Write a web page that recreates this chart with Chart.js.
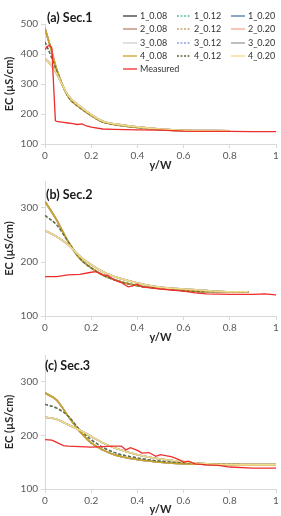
<!DOCTYPE html>
<html><head><meta charset="utf-8">
<script src="https://cdn.jsdelivr.net/npm/chart.js@4/dist/chart.umd.min.js"></script>
<style>
html,body{margin:0;padding:0;background:#fff;}
#wrap{position:relative;width:281px;height:516px;overflow:hidden;font-family:Lato,'Open Sans',sans-serif;}
canvas{position:absolute;left:0;}
.ptitle{position:absolute;font-weight:bold;font-size:12.5px;color:#1a1a1a;line-height:1;white-space:nowrap;}
.lg{position:absolute;font-size:9px;color:#333;line-height:10px;white-space:nowrap;display:flex;align-items:center;}
.lg svg{display:block;margin-right:3px;}
</style></head>
<body><div id="wrap">
<canvas id="c1" width="281" height="172" style="top:0px"></canvas>
<canvas id="c2" width="281" height="172" style="top:172px"></canvas>
<canvas id="c3" width="281" height="172" style="top:344px"></canvas>
<div class="ptitle" style="left:47px;top:12px">(a) Sec.1</div>
<div class="ptitle" style="left:46px;top:189px">(b) Sec.2</div>
<div class="ptitle" style="left:45px;top:360px">(c) Sec.3</div>
<div id="legend"></div>
</div>
<script>
// ---------- data ----------
const seriesNames = ['1_0.08','1_0.12','1_0.20','2_0.08','2_0.12','2_0.20','3_0.08','3_0.12','3_0.20','4_0.08','4_0.12','4_0.20'];
const seriesGroup = ['008','012','020','008','012','020','008','012','020','008','012','020'];
const measuredName = 'Measured';
const xTicks = [0, 0.2, 0.4, 0.6, 0.8, 1];
const xTickLabels = ['0', '0.2', '0.4', '0.6', '0.8', '1'];
const yTicks = [100, 200, 300, 400, 500];

// Sec.1
const xModel1 = [0, 0.025, 0.05, 0.1, 0.15, 0.2, 0.25, 0.3, 0.4, 0.5, 0.6, 0.7, 0.8];
const sec1_008 = [485, 420, 350, 258, 222, 195, 173, 165, 155, 148, 145, 144, 143];
const sec1_012 = [440, 395, 345, 258, 222, 195, 173, 165, 155, 148, 145, 144, 143];
const sec1_020 = [385, 365, 335, 262, 226, 198, 176, 167, 157, 150, 146, 145, 144];
const xMeas1 = [0, 0.01, 0.02, 0.03, 0.035, 0.045, 0.05, 0.08, 0.1, 0.12, 0.14, 0.16, 0.18, 0.2, 0.25, 0.3, 0.4, 0.5, 0.6, 0.7, 0.8, 0.9, 1];
const meas1 = [415, 425, 430, 420, 330, 178, 175, 172, 170, 168, 165, 167, 160, 156, 150, 149, 147, 146, 143, 142, 142, 141, 141];

// Sec.2
const xModel2 = [0, 0.05, 0.1, 0.15, 0.2, 0.25, 0.3, 0.4, 0.5, 0.6, 0.7, 0.8, 0.88];
const sec2_008 = [312, 278, 238, 207, 189, 176, 167, 156, 151, 147, 145, 145, 144.5];
const sec2_012 = [286, 269, 238, 207, 189, 176, 167, 156, 151, 147, 145, 145, 144.5];
const sec2_020 = [258, 247, 232, 211, 195, 182, 173, 161, 153, 150, 147, 145, 145];
const xMeas2 = [0, 0.05, 0.1, 0.15, 0.2, 0.22, 0.25, 0.27, 0.3, 0.33, 0.36, 0.38, 0.4, 0.42, 0.5, 0.6, 0.65, 0.7, 0.8, 0.9, 0.95, 1];
const meas2 = [173, 173, 176, 177, 181, 182, 176, 175, 167, 162, 154, 156, 159, 154, 150, 146, 143, 141, 140, 140, 141, 139];

// Sec.3
const xModel3 = [0, 0.05, 0.1, 0.15, 0.2, 0.25, 0.3, 0.4, 0.5, 0.6, 0.7, 0.8, 0.9, 1.0];
const sec3_008 = [279, 266, 236, 208, 186, 173, 164, 155, 150, 147, 146, 145.5, 145.5, 145.5];
const sec3_012 = [258, 251, 236, 211, 192, 178, 168, 158, 152, 149, 147, 146, 145.5, 145.5];
const sec3_020 = [234, 230, 220, 210, 198, 186, 177, 164, 156, 151, 147, 145.5, 145, 145];
const xMeas3 = [0, 0.03, 0.05, 0.08, 0.1, 0.2, 0.3, 0.33, 0.35, 0.37, 0.4, 0.42, 0.45, 0.48, 0.5, 0.55, 0.58, 0.6, 0.62, 0.65, 0.7, 0.75, 0.8, 0.9, 1];
const meas3 = [192, 191, 187, 181, 180, 178, 180, 180, 173, 177, 172, 167, 168, 161, 164, 160, 155, 150, 152, 147, 145, 144, 141, 139, 139];

// ---------- styles ----------
const seriesColors = ['#3a3a3a','#4dc89a','#4a78b0','#b8866a','#c8a070','#f2a88f','#d0d0d0','#8f9fe0','#9a9a9a','#c9a227','#5d6b35','#f0dc8a'];
const measuredColor = '#ee2d2d';
const FONT = 'Lato, "Open Sans", sans-serif';

function pts(xs, ys){ return xs.map((x,i)=>({x:x, y:ys[i]})); }

function buildDatasets(xModel, groups, xMeas, meas){
  const ds = seriesNames.map((name,i)=>{
    const dashed = seriesGroup[i]==='012';
    return {
      label:name,
      data:pts(xModel, groups[seriesGroup[i]]),
      borderColor:seriesColors[i],
      borderWidth: dashed ? 1.2 : 1.6,
      borderDash: dashed ? [3,2] : [],
      cubicInterpolationMode:'monotone',
      pointRadius:0,
      order: 13 - i
    };
  });
  ds.push({label:measuredName, data:pts(xMeas, meas), borderColor:measuredColor, borderWidth:1.3, tension:0, pointRadius:0, order:0});
  return ds;
}

function makeChart(id, datasets, yMax, padTop, axisH){
  return new Chart(document.getElementById(id), {
    type:'line',
    data:{datasets:datasets},
    options:{
      responsive:false, animation:false, devicePixelRatio:1,
      layout:{padding:{top:padTop, right:5, left:0, bottom:0}},
      plugins:{legend:{display:false}, tooltip:{enabled:false}},
      scales:{
        x:{
          type:'linear', min:0, max:1,
          afterBuildTicks:s=>{ s.ticks = xTicks.map(v=>({value:v})); },
          afterFit:s=>{ s.height = axisH; },
          grid:{drawOnChartArea:false, drawTicks:true, tickLength:4, color:'#d9d9d9'},
          border:{color:'#d9d9d9', width:1},
          ticks:{callback:(v,i)=>xTickLabels[i], color:'#595959', font:{family:FONT, size:10}, padding:2, maxRotation:0, autoSkip:false},
          title:{display:true, text:'y/W', color:'#262626', font:{family:FONT, size:11, weight:'bold'}, padding:0}
        },
        y:{
          min:100, max:yMax,
          afterBuildTicks:s=>{ s.ticks = yTicks.filter(v=>v<=yMax).map(v=>({value:v})); },
          afterFit:s=>{ s.width = 45; },
          grid:{drawOnChartArea:false, drawTicks:true, tickLength:4, color:'#d9d9d9'},
          border:{color:'#d9d9d9', width:1},
          ticks:{color:'#595959', font:{family:FONT, size:10}, padding:3, autoSkip:false},
          title:{display:true, text:'EC (µS/cm)', color:'#262626', font:{family:FONT, size:11, weight:'bold'}, padding:{top:3, bottom:0}}
        }
      }
    }
  });
}

makeChart('c1', buildDatasets(xModel1, {'008':sec1_008,'012':sec1_012,'020':sec1_020}, xMeas1, meas1), 500, 24, 28);
makeChart('c2', buildDatasets(xModel2, {'008':sec2_008,'012':sec2_012,'020':sec2_020}, xMeas2, meas2), 350, 9, 28);
makeChart('c3', buildDatasets(xModel3, {'008':sec3_008,'012':sec3_012,'020':sec3_020}, xMeas3, meas3), 350, 11, 27);

// ---------- legend (HTML) ----------
const lgCols = [123, 177, 231];
const lgRows = [16, 29.3, 42.7, 56, 69.3];
const legendEl = document.getElementById('legend');
function addItem(name, color, dashed, col, row){
  const d = document.createElement('div');
  d.className = 'lg';
  d.style.left = lgCols[col] + 'px';
  d.style.top = (lgRows[row] - 5) + 'px';
  d.innerHTML = '<svg width="14" height="10"><line x1="0" y1="5" x2="14" y2="5" stroke="'+color+'" stroke-width="1.3"'+(dashed?' stroke-dasharray="2,1.5"':'')+'/></svg><span>'+name+'</span>';
  legendEl.appendChild(d);
}
seriesNames.forEach((n,i)=>addItem(n, seriesColors[i], seriesGroup[i]==='012', i%3, Math.floor(i/3)));
addItem(measuredName, measuredColor, false, 0, 4);
</script>
</body></html>
